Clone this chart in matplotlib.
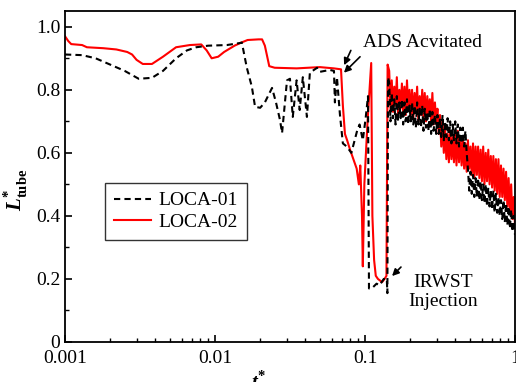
import numpy as np
import matplotlib
matplotlib.use("Agg")
import matplotlib.pyplot as plt
from matplotlib.ticker import FixedLocator, FuncFormatter, MultipleLocator

plt.rcParams['font.family'] = ['Liberation Serif', 'DejaVu Serif']
plt.rcParams['mathtext.fontset'] = 'custom'
plt.rcParams['mathtext.rm'] = 'Liberation Serif'
plt.rcParams['mathtext.bf'] = 'Liberation Serif:bold'
plt.rcParams['mathtext.bfit'] = 'Liberation Serif:bold:italic'

# LOCA-01 (dashed black), early transient
t01 = [0.001, 0.0013, 0.0016, 0.002, 0.0025, 0.0031, 0.0038, 0.0045, 0.0055, 0.0065,
       0.0075, 0.009, 0.012, 0.0145, 0.0151, 0.0163, 0.0176, 0.0185, 0.020, 0.0215,
       0.024, 0.0255, 0.0271, 0.028, 0.0302, 0.0316, 0.033, 0.035, 0.0367, 0.0385,
       0.041, 0.0429, 0.0479, 0.050, 0.0582, 0.0621, 0.063, 0.065, 0.0681, 0.0701,
       0.0712, 0.0756, 0.0811, 0.0886, 0.092, 0.0967, 0.101, 0.1047, 0.1063, 0.111,
       0.1194, 0.125, 0.1334, 0.1397, 0.141, 0.1425]
y01 = [0.912, 0.91, 0.90, 0.88, 0.86, 0.835, 0.838, 0.86, 0.90, 0.925,
       0.935, 0.94, 0.942, 0.948, 0.95, 0.87, 0.81, 0.746, 0.743, 0.76,
       0.806, 0.76, 0.705, 0.663, 0.83, 0.835, 0.714, 0.83, 0.736, 0.84,
       0.714, 0.854, 0.87, 0.857, 0.863, 0.86, 0.76, 0.84, 0.72, 0.66,
       0.63, 0.62, 0.60, 0.67, 0.69, 0.64, 0.71, 0.78, 0.17, 0.17,
       0.185, 0.18, 0.20, 0.20, 0.155, 0.84]

# LOCA-02 (solid red), early transient
t02 = [0.001, 0.00105, 0.0011, 0.0013, 0.0014, 0.0018, 0.0022, 0.0026, 0.0028, 0.003,
       0.0033, 0.0038, 0.0045, 0.0055, 0.0068, 0.0081, 0.0088, 0.0095, 0.0105, 0.0115,
       0.0135, 0.015, 0.0165, 0.0195, 0.0206, 0.0215, 0.023, 0.025, 0.035, 0.05,
       0.062, 0.0692, 0.0712, 0.0735, 0.076, 0.0795, 0.085, 0.088, 0.091, 0.093,
       0.0955, 0.0967, 0.099, 0.104, 0.110, 0.112, 0.115, 0.118, 0.122, 0.13,
       0.135, 0.139, 0.1415]
y02 = [0.97, 0.955, 0.945, 0.942, 0.935, 0.932, 0.928, 0.92, 0.912, 0.895,
       0.882, 0.882, 0.905, 0.935, 0.942, 0.944, 0.925, 0.90, 0.905, 0.92,
       0.94, 0.95, 0.958, 0.96, 0.96, 0.94, 0.875, 0.87, 0.868, 0.872,
       0.868, 0.865, 0.75, 0.66, 0.64, 0.61, 0.57, 0.55, 0.50, 0.56,
       0.40, 0.24, 0.50, 0.70, 0.885, 0.40, 0.26, 0.21, 0.20, 0.19,
       0.20, 0.21, 0.88]

# late (noisy) phase after IRWST injection, shared time grid
t_tail = [0.1450, 0.1479, 0.1508, 0.1537, 0.1567, 0.1598, 0.1630, 0.1662, 0.1695, 0.1728,
          0.1762, 0.1797, 0.1832, 0.1868, 0.1905, 0.1942, 0.1981, 0.2020, 0.2059, 0.2100,
          0.2141, 0.2183, 0.2226, 0.2270, 0.2315, 0.2360, 0.2407, 0.2454, 0.2502, 0.2552,
          0.2602, 0.2653, 0.2705, 0.2759, 0.2813, 0.2868, 0.2925, 0.2982, 0.3041, 0.3101,
          0.3162, 0.3224, 0.3288, 0.3352, 0.3418, 0.3486, 0.3554, 0.3624, 0.3696, 0.3769,
          0.3843, 0.3918, 0.3996, 0.4074, 0.4155, 0.4236, 0.4320, 0.4405, 0.4492, 0.4580,
          0.4670, 0.4762, 0.4856, 0.4952, 0.5049, 0.5149, 0.5250, 0.5354, 0.5459, 0.5567,
          0.5676, 0.5788, 0.5902, 0.6018, 0.6137, 0.6258, 0.6381, 0.6507, 0.6635, 0.6766,
          0.6899, 0.7035, 0.7173, 0.7315, 0.7459, 0.7606, 0.7756, 0.7909, 0.8064, 0.8223,
          0.8385, 0.8551, 0.8719, 0.8891, 0.9066, 0.9245, 0.9427, 0.9613, 0.9802, 1.0]
y02_tail = [0.86, 0.74, 0.83, 0.73, 0.81, 0.75, 0.84, 0.72, 0.80, 0.74,
            0.82, 0.73, 0.81, 0.72, 0.83, 0.74, 0.80, 0.72, 0.80, 0.71,
            0.79, 0.73, 0.81, 0.70, 0.78, 0.72, 0.80, 0.71, 0.79, 0.70,
            0.78, 0.72, 0.77, 0.70, 0.79, 0.69, 0.76, 0.70, 0.74, 0.66,
            0.72, 0.62, 0.70, 0.60, 0.68, 0.58, 0.66, 0.57, 0.67, 0.58,
            0.65, 0.57, 0.66, 0.56, 0.67, 0.57, 0.65, 0.56, 0.64, 0.55,
            0.63, 0.54, 0.64, 0.55, 0.62, 0.53, 0.63, 0.52, 0.62, 0.53,
            0.62, 0.52, 0.61, 0.51, 0.62, 0.50, 0.60, 0.51, 0.61, 0.50,
            0.59, 0.49, 0.59, 0.48, 0.58, 0.47, 0.58, 0.46, 0.56, 0.46,
            0.55, 0.45, 0.54, 0.43, 0.52, 0.41, 0.50, 0.39, 0.46, 0.37]
y01_tail = [0.82, 0.70, 0.79, 0.71, 0.77, 0.69, 0.78, 0.70, 0.76, 0.71,
            0.77, 0.69, 0.76, 0.70, 0.77, 0.69, 0.75, 0.70, 0.76, 0.69,
            0.75, 0.68, 0.76, 0.69, 0.74, 0.68, 0.75, 0.67, 0.74, 0.68,
            0.73, 0.67, 0.74, 0.66, 0.73, 0.67, 0.72, 0.66, 0.72, 0.66,
            0.71, 0.65, 0.72, 0.64, 0.70, 0.65, 0.71, 0.64, 0.70, 0.63,
            0.69, 0.64, 0.70, 0.63, 0.69, 0.62, 0.68, 0.63, 0.68, 0.62,
            0.67, 0.60, 0.55, 0.48, 0.54, 0.47, 0.53, 0.46, 0.52, 0.46,
            0.52, 0.45, 0.51, 0.45, 0.50, 0.44, 0.50, 0.43, 0.49, 0.43,
            0.48, 0.42, 0.48, 0.41, 0.47, 0.41, 0.46, 0.40, 0.45, 0.39,
            0.45, 0.38, 0.44, 0.37, 0.43, 0.36, 0.42, 0.35, 0.40, 0.34]

fig = plt.figure(figsize=(5.16, 3.82), dpi=100)
ax = fig.add_axes([65 / 516, 40 / 382, 450 / 516, 331 / 382])

ax.plot(t02 + t_tail, y02 + y02_tail, color='#ff0000', lw=1.5, label='LOCA-02', zorder=2)
ax.plot(t01 + t_tail, y01 + y01_tail, color='black', lw=1.5, dashes=(3, 2), label='LOCA-01', zorder=3)

ax.set_xscale('log')
ax.set_xlim(0.001, 1.0)
ax.set_ylim(0, 1.05)

ax.xaxis.set_major_locator(FixedLocator([0.001, 0.01, 0.1, 1]))
ax.xaxis.set_major_formatter(FuncFormatter(lambda v, p: {0.001: '0.001', 0.01: '0.01', 0.1: '0.1', 1: '1'}.get(round(v, 3), '')))
ax.yaxis.set_major_locator(MultipleLocator(0.2))
ax.yaxis.set_minor_locator(MultipleLocator(0.1))
ax.yaxis.set_major_formatter(FuncFormatter(lambda v, p: '0' if abs(v) < 1e-9 else f'{v:.1f}'))
ax.tick_params(which='both', direction='in', labelsize=14)
ax.tick_params(which='major', length=5, width=1.2)
ax.tick_params(which='minor', length=3, width=1.0)
ax.tick_params(axis='x', pad=6)
for s in ax.spines.values():
    s.set_linewidth(1.3)

ax.set_ylabel(r'$\mathbfit{L}^{\mathbf{*}}_{\mathbf{tube}}$', fontsize=15)
ax.yaxis.set_label_coords(-0.078, 0.46)
ax.set_xlabel(r'$\mathbfit{t}^{\mathbf{*}}$', fontsize=15)
ax.xaxis.set_label_coords(0.43, -0.088)

ax.legend(handles=ax.get_lines()[::-1], loc='upper left', bbox_to_anchor=(0.089, 0.48),
          fontsize=14, frameon=True, fancybox=False, edgecolor='black',
          handlelength=1.9, handletextpad=0.4, borderaxespad=0, borderpad=0.45,
          labelspacing=0.2).get_frame().set_linewidth(1.0)

arrow = dict(arrowstyle='-|>', color='black', lw=1.2, mutation_scale=10)
ax.annotate('', xy=(0.0713, 0.870), xytext=(0.0819, 0.933), arrowprops=arrow)
ax.annotate('', xy=(0.0702, 0.848), xytext=(0.0955, 0.911), arrowprops=arrow)
ax.text(0.097, 0.949, 'ADS Acvitated', fontsize=14, va='center', ha='left')

ax.annotate('', xy=(0.147, 0.203), xytext=(0.179, 0.244), arrowprops=arrow)
ax.text(0.331, 0.159, 'IRWST\nInjection', fontsize=14, va='center', ha='center', linespacing=1.1)

fig.savefig('out.png', dpi=100)
